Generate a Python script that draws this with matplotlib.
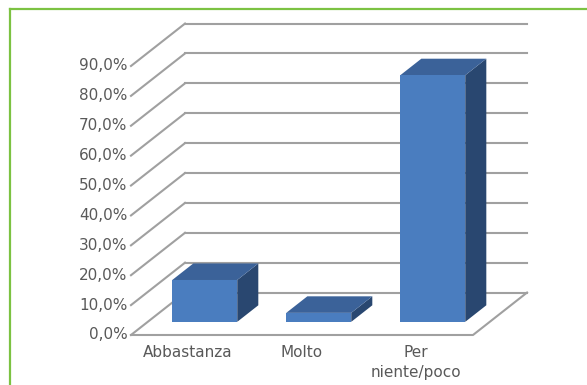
import matplotlib.pyplot as plt
from matplotlib.patches import Polygon
from matplotlib.lines import Line2D

# Survey answers and share of respondents (%)
categories = ['Abbastanza', 'Molto', 'Per\nniente/poco']
values = [14.0, 3.0, 82.5]
ticks = [0, 10, 20, 30, 40, 50, 60, 70, 80, 90]
tick_labels = [f'{t},0%' for t in ticks]

# fake 3d: depth offset of the whole box in data units
DX, DY = 0.474, 14.2
BAR_W = 0.57
BAR_D0, BAR_D1 = 0.31, 0.70

FRONT = '#4a7dbf'
TOP = '#3b6299'
SIDE = '#294770'
GRID = '#a0a0a0'
TXT = '#595959'


def proj(x, y, d):
    return (x + d * DX, y + d * DY)


def draw_bar(ax, i, v):
    x0, x1 = i - BAR_W / 2, i + BAR_W / 2
    front = [proj(x0, 0, BAR_D0), proj(x1, 0, BAR_D0), proj(x1, v, BAR_D0), proj(x0, v, BAR_D0)]
    top = [proj(x0, v, BAR_D0), proj(x1, v, BAR_D0), proj(x1, v, BAR_D1), proj(x0, v, BAR_D1)]
    side = [proj(x1, 0, BAR_D0), proj(x1, 0, BAR_D1), proj(x1, v, BAR_D1), proj(x1, v, BAR_D0)]
    ax.add_patch(Polygon(side, closed=True, facecolor=SIDE, edgecolor='none', zorder=3))
    ax.add_patch(Polygon(top, closed=True, facecolor=TOP, edgecolor='none', zorder=3))
    ax.add_patch(Polygon(front, closed=True, facecolor=FRONT, edgecolor='none', zorder=4))


fig = plt.figure(figsize=(5.87, 3.85), dpi=100)
ax = fig.add_axes([0, 0, 1, 1])
ax.set_xlim(-1.649, 3.5)
ax.set_ylim(-16.73, 112.08)
ax.axis('off')

n = len(categories)
xl, xr = -0.5, n - 0.5

# back wall gridlines and the slanted lines to the front axis
for t, lab in zip(ticks, tick_labels):
    bx0, by = proj(xl, t, 1)
    bx1, _ = proj(xr, t, 1)
    ax.plot([xl, bx0], [t, by], color=GRID, lw=1.5, zorder=1)
    ax.plot([bx0, bx1], [by, by], color=GRID, lw=1.5, zorder=1)
    ax.text(xl - 0.03, t, lab, ha='right', va='center', fontsize=11, color=TXT)

# floor outline
floor = [proj(xl, 0, 0), proj(xr, 0, 0), proj(xr, 0, 1)]
fx, fy = zip(*floor)
ax.plot(fx, fy, color=GRID, lw=1.5, zorder=2)

for i, v in enumerate(values):
    draw_bar(ax, i, v)

for i, c in enumerate(categories):
    ax.text(i, -3.3, c, ha='center', va='top', fontsize=11, color=TXT, linespacing=1.45)

# green frame along the top and left edges
fig.add_artist(Line2D([10 / 587, 1], [1 - 9 / 385, 1 - 9 / 385], transform=fig.transFigure,
                      color='#7cc242', lw=1.6))
fig.add_artist(Line2D([10 / 587, 10 / 587], [0, 1 - 9 / 385], transform=fig.transFigure,
                      color='#7cc242', lw=1.6))

fig.savefig('out.png', dpi=100)
